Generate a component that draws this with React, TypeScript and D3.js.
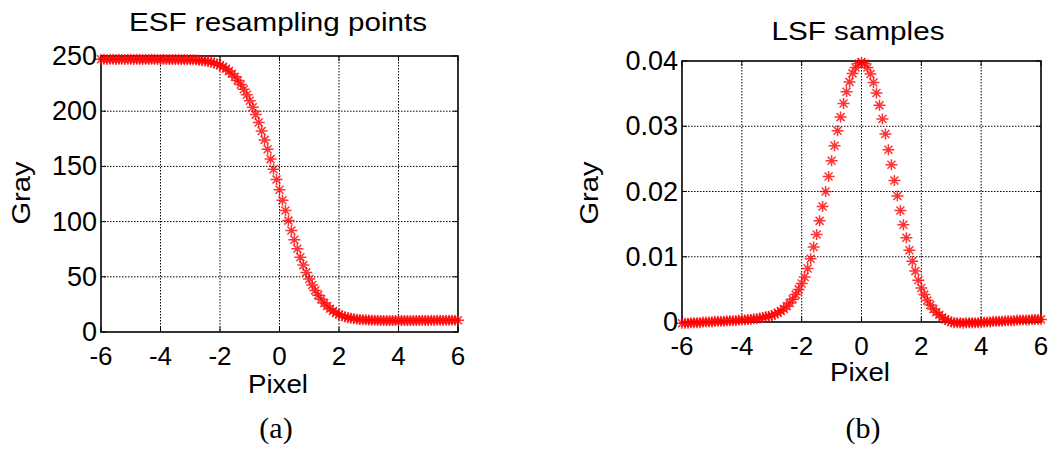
import React from "react";
import * as d3 from "d3";

// Sample positions (pixel), shared by both panels
const pixelPos: number[] = [
  -6.0, -5.9, -5.8, -5.7, -5.6, -5.5, -5.4, -5.3, -5.2, -5.1,
  -5.0, -4.9, -4.8, -4.7, -4.6, -4.5, -4.4, -4.3, -4.2, -4.1,
  -4.0, -3.9, -3.8, -3.7, -3.6, -3.5, -3.4, -3.3, -3.2, -3.1,
  -3.0, -2.9, -2.8, -2.7, -2.6, -2.5, -2.4, -2.3, -2.2, -2.1,
  -2.0, -1.9, -1.8, -1.7, -1.6, -1.5, -1.4, -1.3, -1.2, -1.1,
  -1.0, -0.9, -0.8, -0.7, -0.6, -0.5, -0.4, -0.3, -0.2, -0.1,
  0.0, 0.1, 0.2, 0.3, 0.4, 0.5, 0.6, 0.7, 0.8, 0.9,
  1.0, 1.1, 1.2, 1.3, 1.4, 1.5, 1.6, 1.7, 1.8, 1.9,
  2.0, 2.1, 2.2, 2.3, 2.4, 2.5, 2.6, 2.7, 2.8, 2.9,
  3.0, 3.1, 3.2, 3.3, 3.4, 3.5, 3.6, 3.7, 3.8, 3.9,
  4.0, 4.1, 4.2, 4.3, 4.4, 4.5, 4.6, 4.7, 4.8, 4.9,
  5.0, 5.1, 5.2, 5.3, 5.4, 5.5, 5.6, 5.7, 5.8, 5.9, 6.0,
];

// (a) ESF resampling points (gray level)
const esfGray: number[] = [
  247.0, 247.1, 246.9, 247.0, 247.1, 246.9, 247.0, 247.0, 246.9, 247.1,
  247.0, 246.9, 247.0, 247.1, 246.9, 247.0, 246.9, 247.0, 247.0, 246.9,
  246.9, 247.0, 246.9, 246.8, 246.9, 246.8, 246.8, 246.7, 246.8, 246.7,
  246.7, 246.5, 246.3, 246.1, 245.8, 245.5, 245.1, 244.5, 243.7, 242.8,
  241.6, 240.2, 238.5, 236.5, 234.0, 231.2, 227.9, 224.1, 219.8, 214.9,
  209.5, 203.5, 196.9, 189.8, 182.1, 174.0, 165.5, 156.6, 147.5, 138.2,
  128.8, 119.3, 110.0, 100.9, 92.0, 83.5, 75.4, 67.7, 60.6, 54.0,
  48.0, 42.6, 37.7, 33.4, 29.6, 26.3, 23.5, 21.0, 19.0, 17.3,
  15.9, 14.7, 13.8, 13.0, 12.4, 12.0, 11.6, 11.3, 11.1, 11.0,
  10.8, 10.7, 10.6, 10.6, 10.5, 10.5, 10.4, 10.5, 10.4, 10.4,
  10.4, 10.5, 10.4, 10.5, 10.5, 10.4, 10.5, 10.5, 10.6, 10.5,
  10.5, 10.6, 10.5, 10.6, 10.6, 10.5, 10.6, 10.6, 10.7, 10.6, 10.7,
];

// (b) LSF samples
const lsfGray: number[] = [
  -0.0002, -0.0002, -0.0002, -0.0001, -0.0001, -0.0001, -0.0001, 0.0000, 0.0000, 0.0000,
  0.0000, 0.0001, 0.0001, 0.0001, 0.0001, 0.0002, 0.0002, 0.0002, 0.0002, 0.0003,
  0.0003, 0.0003, 0.0004, 0.0004, 0.0005, 0.0005, 0.0006, 0.0007, 0.0008, 0.0009,
  0.0010, 0.0012, 0.0014, 0.0017, 0.0020, 0.0024, 0.0029, 0.0035, 0.0042, 0.0050,
  0.0059, 0.0069, 0.0082, 0.0097, 0.0115, 0.0134, 0.0155, 0.0177, 0.0200, 0.0223,
  0.0247, 0.0270, 0.0293, 0.0314, 0.0335, 0.0353, 0.0368, 0.0381, 0.0390, 0.0396,
  0.0398, 0.0396, 0.0390, 0.0380, 0.0367, 0.0351, 0.0332, 0.0311, 0.0288, 0.0264,
  0.0241, 0.0217, 0.0193, 0.0171, 0.0149, 0.0129, 0.0110, 0.0093, 0.0078, 0.0064,
  0.0052, 0.0042, 0.0033, 0.0026, 0.0020, 0.0015, 0.0011, 0.0007, 0.0004, 0.0002,
  0.0000, -0.0001, -0.0001, -0.0001, -0.0002, -0.0001, -0.0001, -0.0001, -0.0001, -0.0001,
  -0.0001, 0.0000, 0.0000, 0.0000, 0.0001, 0.0001, 0.0001, 0.0001, 0.0002, 0.0002,
  0.0002, 0.0002, 0.0003, 0.0003, 0.0003, 0.0003, 0.0003, 0.0004, 0.0004, 0.0004, 0.0004,
];

const xTicks: number[] = [-6, -4, -2, 0, 2, 4, 6];
const esfTicks: number[] = [0, 50, 100, 150, 200, 250];
const lsfTicks: number[] = [0, 0.01, 0.02, 0.03, 0.04];
const lsfTickLabels: string[] = ["0", "0.01", "0.02", "0.03", "0.04"];

const SANS = "'Liberation Sans', Arial, sans-serif";
const SERIF = "'Liberation Serif', 'Times New Roman', serif";

type PanelProps = {
  left: number; right: number; top: number; bottom: number;
  yDomain: [number, number];
  yTicks: number[];
  yLabels: string[];
  ys: number[];
  title: string; titleX: number; titleY: number; titleLen: number;
  grayX: number; grayY: number;
  pixelX: number; pixelY: number;
  xTickY: number;
  caption: string; captionX: number;
};

const Star = ({ x, y }: { x: number; y: number }) => (
  <path
    d={`M${x - 6},${y}H${x + 6}M${x},${y - 5.5}V${y + 5.5}M${x - 4},${y - 4}L${x + 4},${y + 4}M${x - 4},${y + 4}L${x + 4},${y - 4}`}
    stroke="#ff0000"
    strokeWidth={1.5}
    strokeOpacity={0.8}
    fill="none"
  />
);

const Panel = (p: PanelProps) => {
  const x = d3.scaleLinear().domain([-6, 6]).range([p.left, p.right]);
  const y = d3.scaleLinear().domain(p.yDomain).range([p.bottom, p.top]);
  const tl = 5;
  return (
    <g>
      {/* grid */}
      {xTicks.slice(1, -1).map((t) => (
        <line key={"gx" + t} x1={x(t)} x2={x(t)} y1={p.top} y2={p.bottom}
          stroke="#000" strokeWidth={1} strokeDasharray="1.5,1.5" />
      ))}
      {p.yTicks.slice(1, -1).map((t) => (
        <line key={"gy" + t} x1={p.left} x2={p.right} y1={y(t)} y2={y(t)}
          stroke="#000" strokeWidth={1} strokeDasharray="1.5,1.5" />
      ))}
      {/* tick marks on all sides */}
      {xTicks.map((t) => (
        <g key={"tx" + t}>
          <line x1={x(t)} x2={x(t)} y1={p.bottom} y2={p.bottom - tl} stroke="#000" strokeWidth={1} />
          <line x1={x(t)} x2={x(t)} y1={p.top} y2={p.top + tl} stroke="#000" strokeWidth={1} />
        </g>
      ))}
      {p.yTicks.map((t) => (
        <g key={"ty" + t}>
          <line x1={p.left} x2={p.left + tl} y1={y(t)} y2={y(t)} stroke="#000" strokeWidth={1} />
          <line x1={p.right} x2={p.right - tl} y1={y(t)} y2={y(t)} stroke="#000" strokeWidth={1} />
        </g>
      ))}
      {/* box */}
      <rect x={p.left} y={p.top} width={p.right - p.left} height={p.bottom - p.top}
        fill="none" stroke="#000" strokeWidth={1.6} />
      {/* markers */}
      {pixelPos.map((px, i) => (
        <Star key={"m" + i} x={x(px)} y={y(p.ys[i])} />
      ))}
      {/* tick labels */}
      {xTicks.map((t) => (
        <text key={"lx" + t} x={x(t)} y={p.xTickY} textAnchor="middle"
          fontFamily={SANS} fontSize={26} fill="#000">{String(t)}</text>
      ))}
      {p.yTicks.map((t, i) => (
        <text key={"ly" + t} x={p.left - 4} y={y(t) + 9} textAnchor="end"
          fontFamily={SANS} fontSize={27} fill="#000">{p.yLabels[i]}</text>
      ))}
      {/* title & labels */}
      <text x={p.titleX} y={p.titleY} textAnchor="middle" fontFamily={SANS} fontSize={25}
        textLength={p.titleLen} lengthAdjust="spacingAndGlyphs" fill="#000">{p.title}</text>
      <text transform={`translate(${p.grayX},${p.grayY}) rotate(-90)`} textAnchor="middle"
        fontFamily={SANS} fontSize={26} textLength={63} lengthAdjust="spacingAndGlyphs" fill="#000">Gray</text>
      <text x={p.pixelX} y={p.pixelY} textAnchor="middle" fontFamily={SANS} fontSize={26}
        textLength={60} lengthAdjust="spacingAndGlyphs" fill="#000">Pixel</text>
      <text x={p.captionX} y={438} textAnchor="middle" fontFamily={SERIF} fontSize={30} fill="#000">{p.caption}</text>
    </g>
  );
};

export default function App() {
  return (
    <svg width={1050} height={450} style={{ position: "absolute", left: 0, top: 0, background: "#fff" }}>
      <rect x={0} y={0} width={1050} height={450} fill="#fff" />
      <Panel
        left={101} right={458} top={56} bottom={332}
        yDomain={[0, 250]} yTicks={esfTicks} yLabels={esfTicks.map(String)} ys={esfGray}
        title="ESF resampling points" titleX={278} titleY={31} titleLen={298}
        grayX={30} grayY={193}
        pixelX={278} pixelY={393}
        xTickY={365}
        caption="(a)" captionX={276}
      />
      <Panel
        left={682} right={1041} top={61} bottom={322}
        yDomain={[0, 0.04]} yTicks={lsfTicks} yLabels={lsfTickLabels} ys={lsfGray}
        title="LSF samples" titleX={858} titleY={40} titleLen={173}
        grayX={598} grayY={193}
        pixelX={860} pixelY={381}
        xTickY={355}
        caption="(b)" captionX={863}
      />
    </svg>
  );
}
